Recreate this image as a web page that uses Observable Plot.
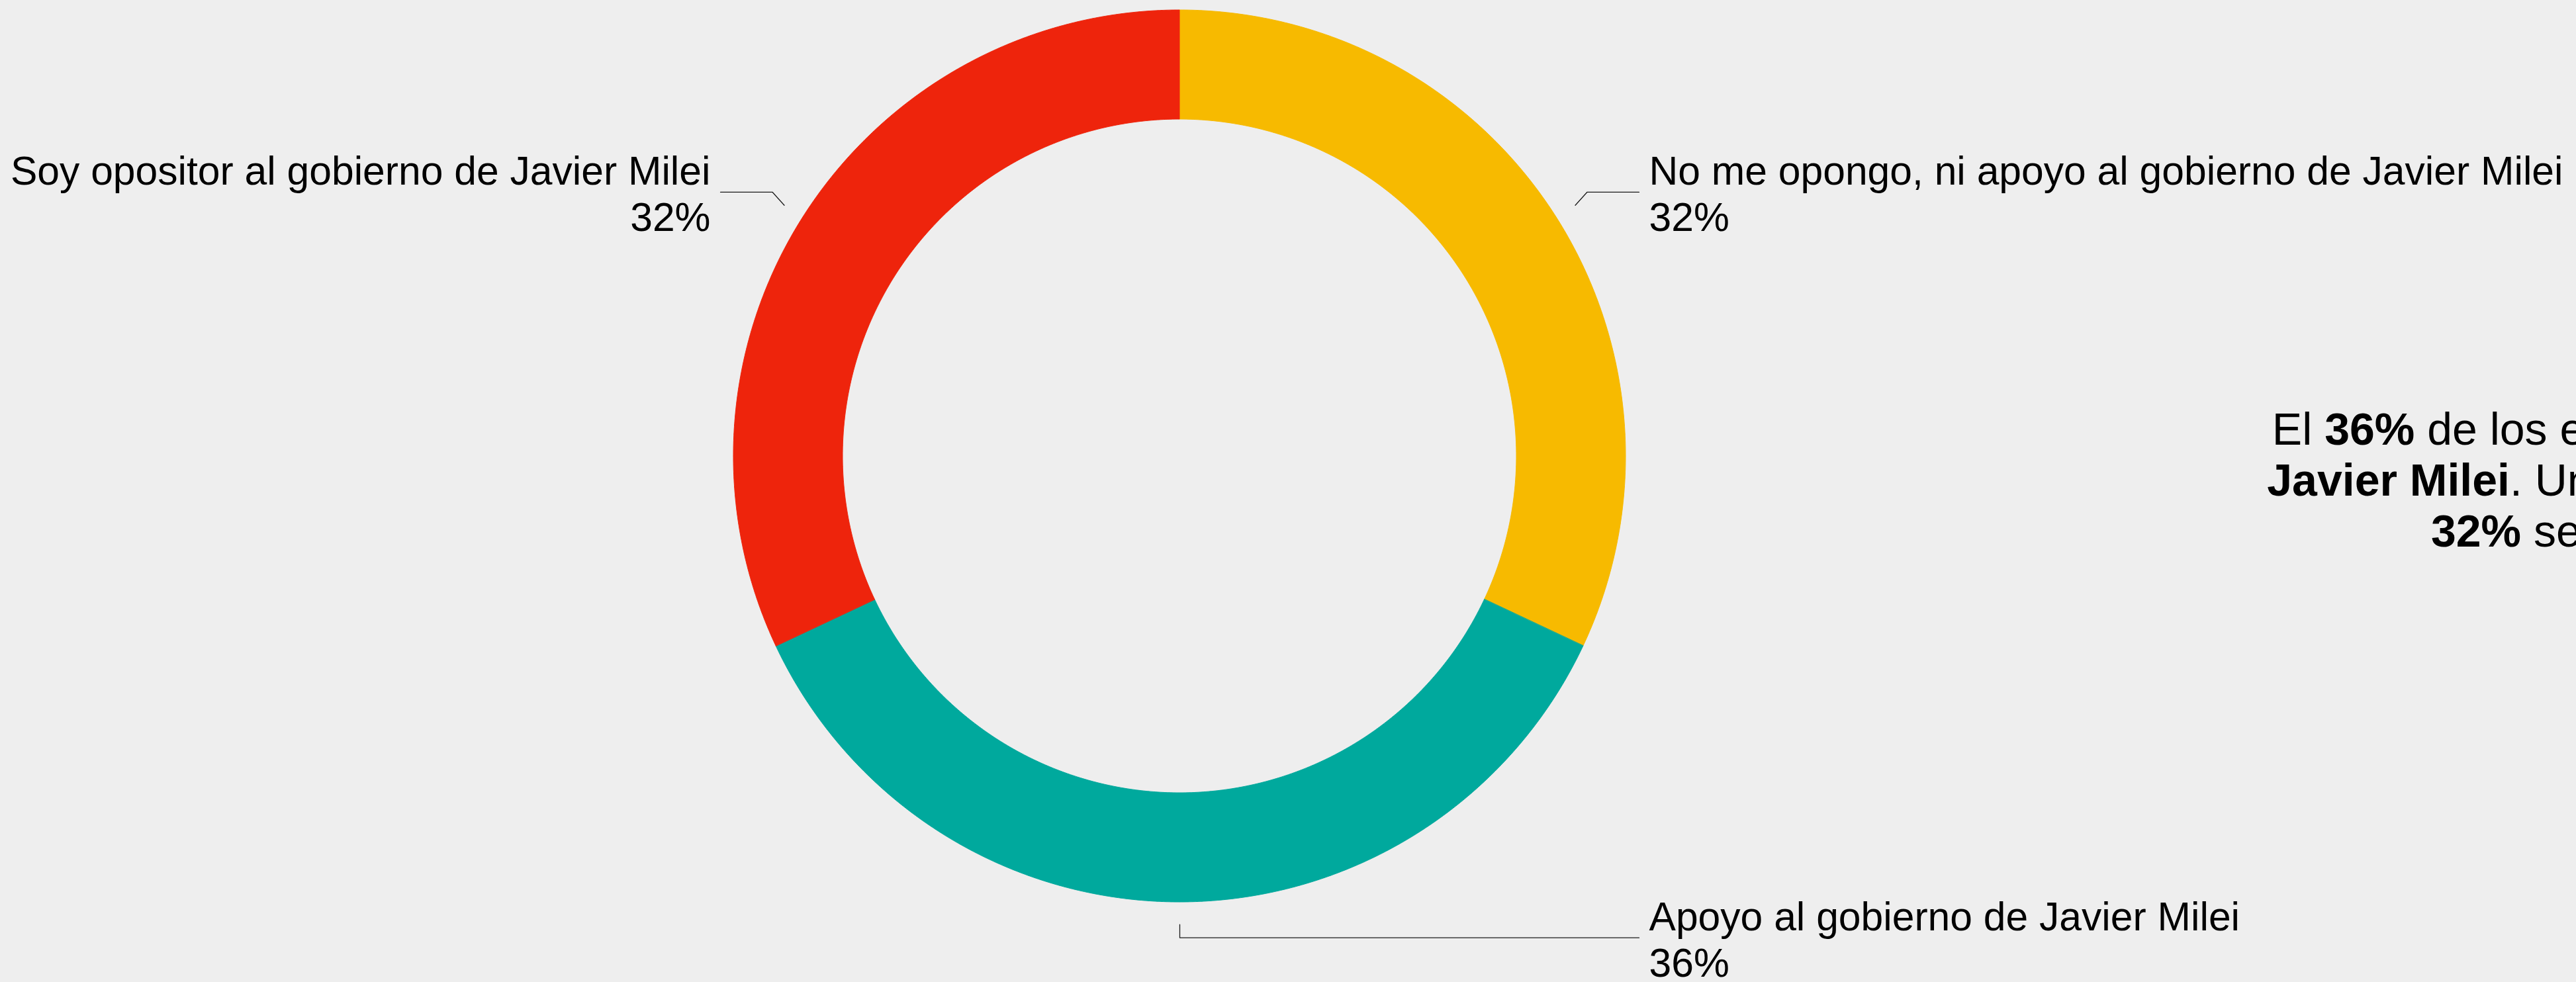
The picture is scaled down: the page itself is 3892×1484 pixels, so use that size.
<!DOCTYPE html>
<html>
<head>
<meta charset="utf-8">
<script src="https://cdn.jsdelivr.net/npm/d3@7"></script>
<script src="https://cdn.jsdelivr.net/npm/@observablehq/plot@0.6"></script>
<style>
  html, body { margin: 0; padding: 0; background: #eeeeee; overflow: hidden; }
  #wrap { position: relative; width: 3892px; height: 1484px; overflow: hidden; background: #eeeeee; }
  #note {
    position: absolute; left: 3170px; top: 610px; width: 2000px;
    text-align: center; font-family: "Liberation Sans", Arial, sans-serif;
    font-size: 68px; line-height: 77px; color: #000; white-space: nowrap;
  }
  #note b { font-weight: bold; }
</style>
</head>
<body>
<div id="wrap"><div id="chart"></div><div id="note"></div></div>
<script>
// ---- data ----
const categories = [
  "No me opongo, ni apoyo al gobierno de Javier Milei",
  "Apoyo al gobierno de Javier Milei",
  "Soy opositor al gobierno de Javier Milei"
];
const values = [32, 36, 32];
const colors = ["#F7BA00", "#00A99D", "#EE240C"];
const valueLabels = values.map(v => v + "%");
const noteLines = [
  [["El ", false], ["36%", true], [" de los encuestados apoya al gobierno de", false]],
  [["Javier Milei", true], [". Un ", false], ["32%", true], [" se opone al gobierno y otro", false]],
  [["32%", true], [" se mantiene neutral ante él.", false]]
];

// ---- layout ----
const W = 3892, H = 1484;
const CX = 1782, CY = 689;
const R = 674, RI = 509;
const FONT = "'Liberation Sans', Arial, sans-serif";
const FS = 60.6;

const total = d3.sum(values);
let acc = 0;
const slices = values.map((v, i) => {
  const a0 = acc / total * 2 * Math.PI;
  acc += v;
  const a1 = acc / total * 2 * Math.PI;
  return {cat: categories[i], a0, a1, mid: (a0 + a1) / 2, label: valueLabels[i]};
});

// ring geometry (samples along each slice's arc)
const ring = [];
for (const s of slices) {
  const n = Math.max(2, Math.ceil((s.a1 - s.a0) / (Math.PI / 900)));
  for (let k = 0; k <= n; k++) {
    const a = s.a0 + (s.a1 - s.a0) * k / n;
    ring.push({
      cat: s.cat,
      xo: R * Math.sin(a), yo: -R * Math.cos(a),
      xi: RI * Math.sin(a), yi: -RI * Math.cos(a)
    });
  }
}

// leader lines and labels
const leaders = [];
const texts = [];
for (const s of slices) {
  const m = s.mid;
  const sm = Math.sin(m), cm = Math.cos(m);
  const p1x = 1.05 * R * sm, p1y = -1.05 * R * cm;
  const sx = Math.abs(sm) > 0.1 ? Math.sign(sm) : 0;
  const sy = cm > 0 ? -1 : 1;
  const p2x = p1x + sx * 18, p2y = p1y + sy * 20;
  const side = sm < -0.1 ? -1 : 1;
  const p3x = side * (R + 20);
  leaders.push({cat: s.cat, x: p1x, y: p1y}, {cat: s.cat, x: p2x, y: p2y}, {cat: s.cat, x: p3x, y: p2y});
  const tx = side * (R + 35);
  const anchor = side < 0 ? "end" : "start";
  const base1 = p2y - 11, base2 = base1 + 70;
  texts.push({x: tx, y: base1 - 0.32 * FS, text: s.cat, anchor});
  texts.push({x: tx, y: base2 - 0.32 * FS, text: s.label, anchor});
}

const chart = Plot.plot({
  width: W, height: H,
  marginTop: 0, marginRight: 0, marginBottom: 0, marginLeft: 0,
  x: {domain: [-CX, W - CX], range: [0, W], axis: null},
  y: {domain: [-CY, H - CY], range: [0, H], axis: null},
  color: {domain: categories, range: colors},
  style: {background: "#eeeeee", fontFamily: FONT, overflow: "hidden"},
  marks: [
    Plot.area(ring, {x1: "xo", y1: "yo", x2: "xi", y2: "yi", z: "cat", fill: "cat", stroke: "cat", strokeWidth: 1}),
    Plot.line(leaders, {x: "x", y: "y", z: "cat", stroke: "#1a1a1a", strokeWidth: 1.3}),
    Plot.text(texts.filter(d => d.anchor === "start"), {x: "x", y: "y", text: "text", textAnchor: "start", fontSize: FS, fill: "#000", fontFamily: FONT}),
    Plot.text(texts.filter(d => d.anchor === "end"), {x: "x", y: "y", text: "text", textAnchor: "end", fontSize: FS, fill: "#000", fontFamily: FONT})
  ]
});
document.getElementById("chart").appendChild(chart);

const note = document.getElementById("note");
note.innerHTML = noteLines.map(line =>
  line.map(([t, b]) => b ? `<b>${t}</b>` : t).join("")
).join("<br>");
</script>
</body>
</html>
